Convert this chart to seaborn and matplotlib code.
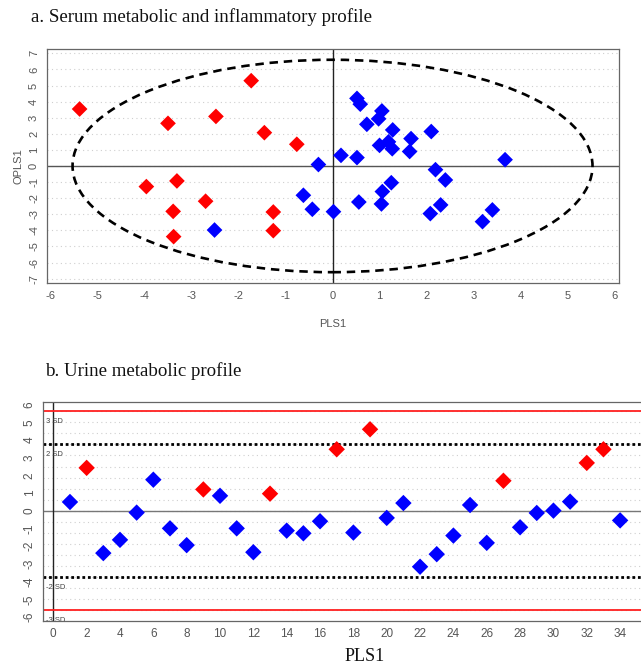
import numpy as np
import pandas as pd
import matplotlib
matplotlib.use("Agg")
import matplotlib.pyplot as plt
from matplotlib.patches import Ellipse
from matplotlib.ticker import MultipleLocator, FixedLocator
import seaborn as sns

# ---- Serum OPLS-DA scores (PLS1 vs OPLS1) ----
serum_pls_red = [-5.38, -1.73, -3.50, -2.48, -1.45, -0.76, -3.96, -3.31,
                 -2.70, -3.39, -1.26, -1.26, -3.38]
serum_opls_red = [3.54, 5.30, 2.65, 3.08, 2.07, 1.35, -1.28, -0.93,
                  -2.19, -2.82, -2.86, -4.02, -4.39]
serum_pls_blue = [-2.51, -0.30, -0.62, -0.43, 0.02, 0.18, 0.52, 0.52, 0.59,
                  1.05, 0.98, 0.73, 1.28, 2.10, 1.67, 1.00, 1.19, 1.27, 1.64,
                  3.67, 2.19, 2.40, 1.25, 1.06, 0.56, 1.04, 2.30, 2.08, 3.40,
                  3.19]
serum_opls_blue = [-3.98, 0.09, -1.82, -2.69, -2.84, 0.66, 0.52, 4.20, 3.84,
                   3.42, 2.93, 2.59, 2.24, 2.14, 1.70, 1.28, 1.50, 1.07, 0.90,
                   0.39, -0.23, -0.87, -1.04, -1.59, -2.24, -2.36, -2.42,
                   -2.96, -2.73, -3.46]

# ---- Urine scores by observation ----
urine_obs = list(range(1, 35))
urine_scores = [0.50, 2.43, -2.39, -1.64, -0.10, 1.76, -0.99, -1.94, 1.21,
                0.85, -0.99, -2.34, 0.97, -1.12, -1.27, -0.59, 3.48, -1.23,
                4.61, -0.40, 0.44, -3.16, -2.45, -1.40, 0.33, -1.81, 1.70,
                -0.93, -0.12, 0.01, 0.52, 2.71, 3.48, -0.54]
urine_group = ["B", "A", "B", "B", "B", "B", "B", "B", "A", "B", "B", "B",
               "A", "B", "B", "B", "A", "B", "A", "B", "B", "B", "B", "B",
               "B", "B", "A", "B", "B", "B", "B", "A", "A", "B"]

urine_sd = 1.878
sd_levels = [3, 2, -2, -3]
sd_labels = ["3 SD", "2 SD", "-2 SD", "-3 SD"]

palette = {"A": "#ff0000", "B": "#0000ff"}

serum = pd.DataFrame({
    "PLS1": serum_pls_red + serum_pls_blue,
    "OPLS1": serum_opls_red + serum_opls_blue,
    "group": ["A"] * len(serum_pls_red) + ["B"] * len(serum_pls_blue),
})
urine = pd.DataFrame({"obs": urine_obs, "score": urine_scores,
                      "group": urine_group})

sns.set_theme(style="white")
plt.rcParams["font.family"] = ["Liberation Sans", "DejaVu Sans"]
plt.rcParams["axes.unicode_minus"] = False

W, H = 641, 665
fig = plt.figure(figsize=(W / 100, H / 100), dpi=100)


def px_axes(left, top, right, bottom):
    return fig.add_axes([left / W, 1 - bottom / H, (right - left) / W,
                         (bottom - top) / H])


tick_col = "#555555"
spine_col = "#666666"


def style_axes(ax, size):
    for s in ax.spines.values():
        s.set_color(spine_col)
        s.set_linewidth(0.9)
    ax.tick_params(which="both", direction="out", colors=spine_col,
                   labelcolor=tick_col, labelsize=size, width=0.8)
    ax.tick_params(which="major", length=3.5, pad=2)
    ax.tick_params(which="minor", length=2.5)
    ax.tick_params(axis="y", labelrotation=90)
    for lab in ax.get_yticklabels():
        lab.set_va("center")


# ---------------- panel a ----------------
ax1 = px_axes(46.7, 49.3, 619.3, 283.3)
ax1.set_xlim(-6.08, 6.1)
ax1.set_ylim(-7.29, 7.25)
for yv in range(-7, 8):
    ax1.axhline(yv, color="#cfcfcf", lw=0.8, ls=(0, (1, 3)), zorder=0)
ax1.axhline(0, color="#555555", lw=1.0, zorder=1)
ax1.axvline(0, color="#222222", lw=1.0, zorder=1)
ax1.add_patch(Ellipse((0, 0), 2 * 5.53, 2 * 6.6, fill=False, ec="black",
                      lw=1.9, ls=(0, (3.2, 2.2)), zorder=2))
sns.scatterplot(data=serum, x="PLS1", y="OPLS1", hue="group",
                palette=palette, marker="D", s=64, linewidth=0,
                legend=False, ax=ax1, zorder=3)
ax1.xaxis.set_major_locator(MultipleLocator(1))
ax1.xaxis.set_minor_locator(MultipleLocator(0.5))
ax1.yaxis.set_major_locator(MultipleLocator(1))
ax1.yaxis.set_minor_locator(MultipleLocator(0.5))
style_axes(ax1, 8)
ax1.set_xlabel("PLS1", color=tick_col, fontsize=8, labelpad=13)
ax1.set_ylabel("OPLS1", color=tick_col, fontsize=8, labelpad=4)

# ---------------- panel b ----------------
ax2 = px_axes(43.3, 401.7, 686.8, 620.5)
ax2.set_xlim(-0.6, 38)
ax2.set_ylim(-6.2, 6.17)
for k in range(-9, 10):
    ax2.axhline(k * urine_sd / 3, color="#cfcfcf", lw=0.8, ls=(0, (1, 3)),
                zorder=0)
ax2.axhline(0, color="#777777", lw=1.0, zorder=1)
ax2.axvline(0, color="#222222", lw=1.0, zorder=1)
for lvl, lab in zip(sd_levels, sd_labels):
    yv = lvl * urine_sd
    if abs(lvl) == 3:
        ax2.axhline(yv, color="#ff2020", lw=1.3, zorder=1)
    else:
        ax2.axhline(yv, color="black", lw=2.0, ls=(0, (1, 1)), zorder=1)
    ax2.text(-0.45, yv - 0.58, lab, fontsize=5.5, color="#444444",
             ha="left", va="center", zorder=2)
sns.scatterplot(data=urine, x="obs", y="score", hue="group",
                palette=palette, marker="D", s=70, linewidth=0,
                legend=False, ax=ax2, zorder=3)
ax2.xaxis.set_major_locator(FixedLocator(list(range(0, 35, 2))))
ax2.xaxis.set_minor_locator(FixedLocator(list(range(0, 38))))
ax2.yaxis.set_major_locator(MultipleLocator(1))
ax2.yaxis.set_minor_locator(MultipleLocator(0.5))
style_axes(ax2, 8.5)
ax2.set_ylabel("")
ax2.set_xlabel("PLS1", family=["Liberation Serif", "DejaVu Serif"],
               fontsize=13, color="#111111", labelpad=6)

# ---------------- panel titles ----------------
serif = ["Liberation Serif", "DejaVu Serif"]
fig.text(31 / W, 1 - 17 / H, "a. Serum metabolic and inflammatory profile",
         family=serif, fontsize=13.6, color="#111111", ha="left",
         va="center")
fig.text(45 / W, 1 - 371 / H, "b. Urine metabolic profile",
         family=serif, fontsize=13.6, color="#111111", ha="left",
         va="center")

fig.savefig("out.png", dpi=100)
